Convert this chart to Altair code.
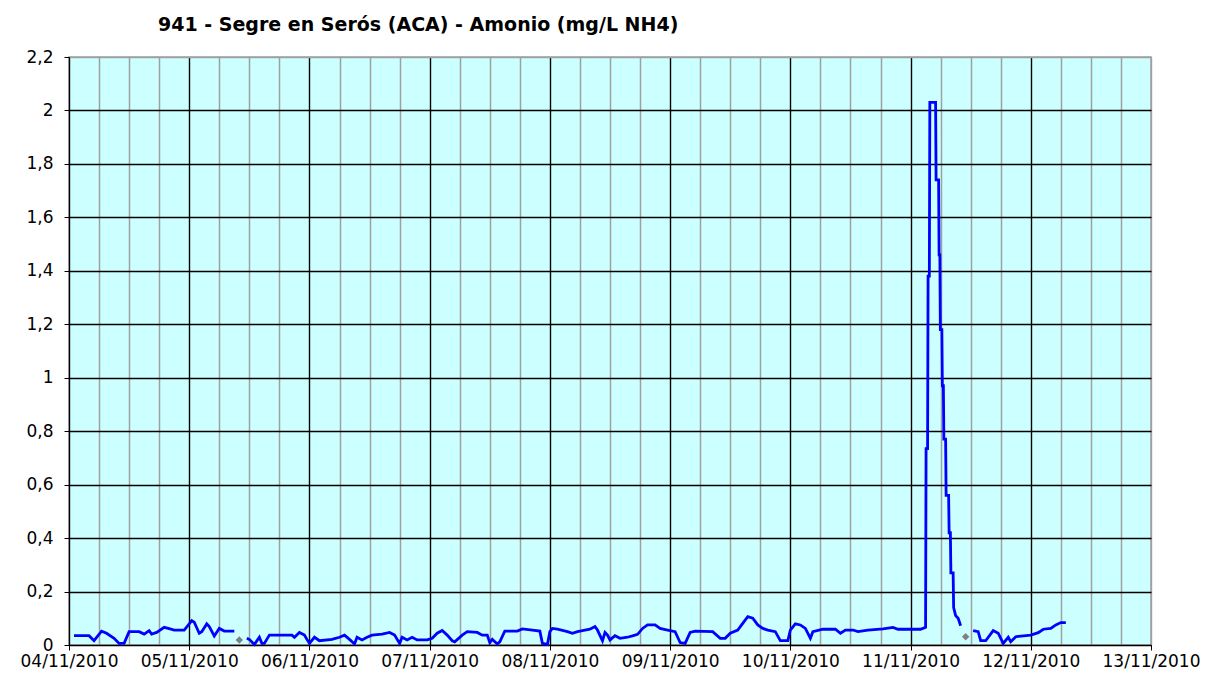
import altair as alt
import pandas as pd

TITLE = "941 - Segre en Serós (ACA) - Amonio (mg/L NH4)"

# hours after 04/11/2010 00:00 and values (mg/L NH4)
seg1_hours = [1, 4, 5, 6.5, 7.5, 9, 10, 11, 12, 14, 15, 16, 16.5, 17.5, 19, 20, 21, 23,
              24, 24.5, 25, 26, 26.5, 27.5, 28, 29, 30, 31, 33]
seg1_vals = [0.035, 0.035, 0.016, 0.052, 0.044, 0.025, 0.006, 0.006, 0.05, 0.05, 0.041,
             0.054, 0.041, 0.047, 0.066, 0.061, 0.056, 0.056, 0.079, 0.091, 0.085, 0.044,
             0.05, 0.079, 0.069, 0.034, 0.062, 0.052, 0.052]

seg2_hours = [35.5, 36, 37, 38, 38.5, 39, 40, 44.5, 45, 46, 47, 47.5, 48, 49, 50, 52.5,
              54, 55, 56, 57, 57.5, 58.5, 59.5, 60.5, 62.5, 64, 65, 66, 66.5, 67.5, 68.5,
              69.5, 71.5, 72.5, 73.5, 74.5, 75.5, 76.5, 77, 78.5, 79.5, 81.5, 82.5, 83.5,
              84, 84.5, 85.5, 86, 87, 89.5, 90.5, 92.5, 94, 94.5, 95.5, 96, 96.5, 97.5,
              99.5, 100.5, 101.5, 102.5, 104, 105, 105.5, 106.5, 107, 107.5, 108, 109,
              110, 111.5, 112.5, 113.5, 114.5, 115.5, 117, 118, 119.5, 121, 122, 123, 124,
              125, 128.5, 130, 131, 132, 133.5, 134.5, 135.5, 136.5, 137.5, 138.5, 139.5,
              141, 142, 143.5, 144, 145, 146, 147, 148, 148.5, 150.5, 153, 154, 155,
              156.5, 157.5, 159.5, 162.5, 164.5, 165.5, 170, 171, 171.1, 171.4, 171.5,
              171.75, 171.85, 173.0, 173.1, 173.6, 173.7, 173.85, 173.95, 174.25, 174.35,
              174.55, 174.65, 175.0, 175.1, 175.6, 175.7, 175.95, 176.05, 176.5, 176.6,
              177.0, 177.5, 178.0]
seg2_vals = [0.025, 0.021, 0.002, 0.029, 0.006, 0.006, 0.037, 0.037, 0.029, 0.047, 0.037,
             0.021, 0.006, 0.029, 0.016, 0.021, 0.029, 0.037, 0.021, 0.004, 0.029, 0.019,
             0.029, 0.037, 0.041, 0.047, 0.037, 0.006, 0.029, 0.019, 0.029, 0.019, 0.019,
             0.025, 0.044, 0.054, 0.037, 0.016, 0.012, 0.037, 0.05, 0.047, 0.037, 0.037,
             0.009, 0.021, 0.004, 0.012, 0.052, 0.052, 0.06, 0.056, 0.052, 0.006, 0.002,
             0.05, 0.062, 0.059, 0.05, 0.044, 0.05, 0.054, 0.059, 0.069, 0.056, 0.016,
             0.047, 0.037, 0.019, 0.035, 0.025, 0.029, 0.034, 0.04, 0.062, 0.075, 0.075,
             0.062, 0.056, 0.05, 0.009, 0.006, 0.047, 0.052, 0.05, 0.025, 0.025, 0.044,
             0.056, 0.081, 0.106, 0.1, 0.075, 0.062, 0.056, 0.05, 0.016, 0.016, 0.056,
             0.079, 0.075, 0.062, 0.025, 0.05, 0.059, 0.059, 0.044, 0.056, 0.056, 0.05,
             0.056, 0.06, 0.066, 0.059, 0.059, 0.066, 0.735, 0.735, 1.38, 1.38, 2.03,
             2.03, 1.74, 1.74, 1.46, 1.46, 1.18, 1.18, 0.97, 0.97, 0.77, 0.77, 0.56, 0.56,
             0.42, 0.42, 0.27, 0.27, 0.14, 0.11, 0.10, 0.072]

seg3_hours = [180.5, 181.5, 182, 183, 184.5, 185.5, 186.5, 187.5, 188, 189, 192, 193.5,
              194.5, 196, 197, 198, 199]
seg3_vals = [0.054, 0.05, 0.016, 0.016, 0.054, 0.044, 0.006, 0.029, 0.012, 0.031, 0.037,
             0.046, 0.059, 0.062, 0.075, 0.084, 0.084]

point_hours = [34, 179]
point_vals = [0.019, 0.031]

y_ticks = [0, 0.2, 0.4, 0.6, 0.8, 1.0, 1.2, 1.4, 1.6, 1.8, 2.0, 2.2]
day_numbers = list(range(4, 14))
minor_hours = [6, 12, 18]

START = pd.Timestamp("2010-11-04 00:00")


def stamp(h):
    return (START + pd.to_timedelta(h, unit="h")).strftime("%Y-%m-%dT%H:%M:%S")


rows = []
for seg, (hs, vs) in enumerate([(seg1_hours, seg1_vals), (seg2_hours, seg2_vals),
                                 (seg3_hours, seg3_vals)]):
    for h, v in zip(hs, vs):
        rows.append({"t": stamp(h), "v": v, "seg": seg})
line_df = pd.DataFrame(rows)
pt_df = pd.DataFrame({"t": [stamp(h) for h in point_hours], "v": point_vals})

FONT = "DejaVu Sans"
x_domain = [alt.DateTime(year=2010, month=11, date=4), alt.DateTime(year=2010, month=11, date=13)]
day_values = [alt.DateTime(year=2010, month=11, date=d) for d in day_numbers]
minor_values = [alt.DateTime(year=2010, month=11, date=d, hours=h)
                for d in day_numbers[:-1] for h in minor_hours]

x_scale = alt.Scale(domain=x_domain)
y_enc = alt.Y(
    "v:Q",
    title=None,
    scale=alt.Scale(domain=[0, 2.2], nice=False),
    axis=alt.Axis(
        values=y_ticks,
        labelExpr="replace(format(datum.value, '.1~f'), '.', ',')",
        labelFont=FONT, labelFontSize=17, labelColor="black", labelPadding=11,
        tickColor="black", tickSize=5, domainColor="black",
        gridColor={"condition": {"test": "datum.value >= 2.19", "value": "#a0a0a0"},
                   "value": "black"},
        gridOpacity=1, gridWidth=1.4,
    ),
)

minor_layer = alt.Chart(line_df).mark_point(opacity=0).encode(
    x=alt.X("t:T", title=None, scale=x_scale,
            axis=alt.Axis(orient="top", values=minor_values, labels=False, ticks=False,
                          domain=False, grid=True, gridColor="#a0a0a0", gridOpacity=1,
                          gridWidth=1.5)),
    y=y_enc,
)

line_layer = alt.Chart(line_df).mark_line(color="#0000ff", strokeWidth=2.8).encode(
    x=alt.X("t:T", title=None, scale=x_scale,
            axis=alt.Axis(values=day_values, format="%d/%m/%Y", labelFont=FONT,
                          labelFontSize=17, labelColor="black", labelPadding=3,
                          labelAngle=0, labelOverlap=False, labelFlush=False,
                          tickColor="black", tickSize=5, domainColor="black",
                          grid=True, gridOpacity=1, gridWidth=1.4,
                          gridColor={"condition": {"test": "datum.value >= datetime(2010, 10, 12, 12)",
                                                   "value": "#a0a0a0"},
                                     "value": "black"})),
    y=y_enc,
    detail="seg:N",
)

point_layer = alt.Chart(pt_df).mark_point(shape="diamond", filled=True, color="#808080",
                                          size=55, opacity=1).encode(
    x=alt.X("t:T", scale=x_scale, axis=None),
    y=y_enc,
)

chart = alt.layer(minor_layer, line_layer, point_layer).resolve_axis(
    x="independent"
).properties(
    width=1082,
    height=588,
    autosize=alt.AutoSizeParams(type="none"),
    padding={"left": 61, "top": 49, "right": 50, "bottom": 24},
    title=alt.TitleParams(TITLE, anchor="start", frame="group", dx=89, offset=13,
                          font=FONT, fontSize=19, fontWeight="bold", color="black"),
).configure_view(
    fill="#ccffff", stroke="#a0a0a0", strokeWidth=1.5
)

chart.save("out.html", embed_options={"renderer": "svg", "actions": False})
